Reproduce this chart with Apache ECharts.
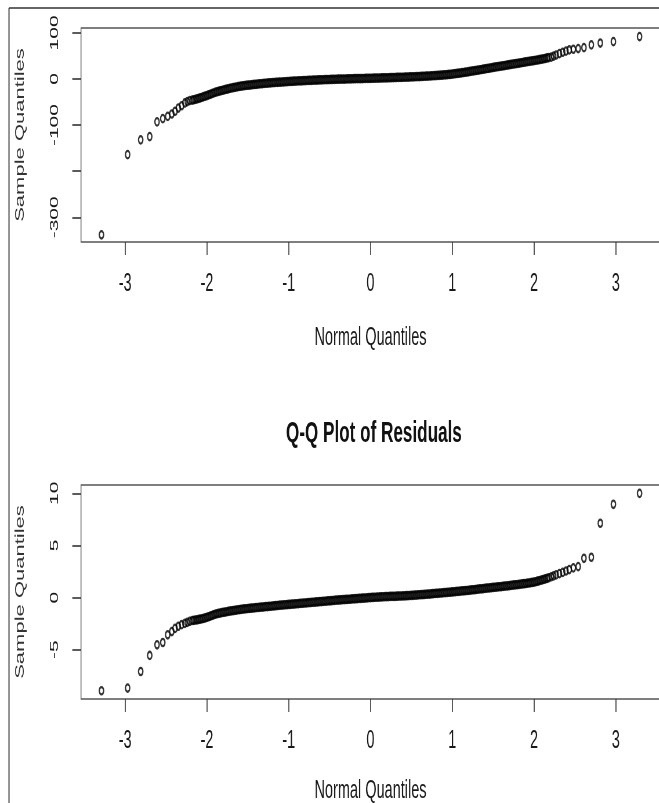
<!DOCTYPE html>
<html>
<head>
<meta charset="utf-8">
<script src="https://cdn.jsdelivr.net/npm/echarts@6/dist/echarts.min.js"></script>
<style>
  html, body { margin: 0; padding: 0; background: #fff; overflow: hidden; width: 659px; height: 803px; }
  #chart { position: absolute; left: 0; top: 0; height: 803px; transform-origin: 0 0; }
</style>
</head>
<body>
<div id="chart"></div>
<script>
// Theoretical normal quantiles (shared by both panels)
const normalQuantiles = [
  -3.29, -2.97, -2.81, -2.70, -2.61, -2.54, -2.48, -2.43, -2.39, -2.35, -2.31, -2.27, -2.24, -2.21,
  -2.18, -2.16, -2.14, -2.12, -2.10, -2.08, -2.06, -2.04, -2.02,
  -2.00, -1.98, -1.96, -1.94, -1.92, -1.90, -1.88, -1.86, -1.84, -1.82,
  -1.80, -1.78, -1.76, -1.74, -1.72, -1.70, -1.68, -1.66, -1.64, -1.62,
  -1.60, -1.58, -1.56, -1.54, -1.52, -1.50, -1.48, -1.46, -1.44, -1.42,
  -1.40, -1.38, -1.36, -1.34, -1.32, -1.30, -1.28, -1.26, -1.24, -1.22,
  -1.20, -1.18, -1.16, -1.14, -1.12, -1.10, -1.08, -1.06, -1.04, -1.02,
  -1.00, -0.98, -0.96, -0.94, -0.92, -0.90, -0.88, -0.86, -0.84, -0.82,
  -0.80, -0.78, -0.76, -0.74, -0.72, -0.70, -0.68, -0.66, -0.64, -0.62,
  -0.60, -0.58, -0.56, -0.54, -0.52, -0.50, -0.48, -0.46, -0.44, -0.42,
  -0.40, -0.38, -0.36, -0.34, -0.32, -0.30, -0.28, -0.26, -0.24, -0.22,
  -0.20, -0.18, -0.16, -0.14, -0.12, -0.10, -0.08, -0.06, -0.04, -0.02,
  0.00, 0.02, 0.04, 0.06, 0.08, 0.10, 0.12, 0.14, 0.16, 0.18,
  0.20, 0.22, 0.24, 0.26, 0.28, 0.30, 0.32, 0.34, 0.36, 0.38,
  0.40, 0.42, 0.44, 0.46, 0.48, 0.50, 0.52, 0.54, 0.56, 0.58,
  0.60, 0.62, 0.64, 0.66, 0.68, 0.70, 0.72, 0.74, 0.76, 0.78,
  0.80, 0.82, 0.84, 0.86, 0.88, 0.90, 0.92, 0.94, 0.96, 0.98,
  1.00, 1.02, 1.04, 1.06, 1.08, 1.10, 1.12, 1.14, 1.16, 1.18,
  1.20, 1.22, 1.24, 1.26, 1.28, 1.30, 1.32, 1.34, 1.36, 1.38,
  1.40, 1.42, 1.44, 1.46, 1.48, 1.50, 1.52, 1.54, 1.56, 1.58,
  1.60, 1.62, 1.64, 1.66, 1.68, 1.70, 1.72, 1.74, 1.76, 1.78,
  1.80, 1.82, 1.84, 1.86, 1.88, 1.90, 1.92, 1.94, 1.96, 1.98,
  2.00, 2.02, 2.04, 2.06, 2.08, 2.10, 2.12, 2.14, 2.16, 2.18,
  2.21, 2.24, 2.27, 2.31, 2.35, 2.39, 2.43, 2.48, 2.54, 2.61, 2.70, 2.81, 2.97, 3.29
];

// Sample quantiles, upper panel
const topSample = [
  -338, -164, -132, -125, -93, -86, -81, -76, -70, -63, -58, -52, -49, -47,
  -46.0, -45.0, -44.0, -43.0, -42.0, -40.8, -39.6, -38.4, -37.2,
  -36.0, -34.6, -33.2, -31.8, -30.4, -29.0, -28.0, -27.0, -26.0, -25.0,
  -24.0, -23.1, -22.2, -21.3, -20.4, -19.5, -18.8, -18.1, -17.4, -16.7,
  -16.0, -15.5, -15.0, -14.5, -14.0, -13.5, -13.1, -12.7, -12.3, -11.9,
  -11.5, -11.1, -10.7, -10.3, -9.9, -9.5, -9.2, -8.9, -8.6, -8.3,
  -8.0, -7.7, -7.5, -7.2, -7.0, -6.7, -6.5, -6.2, -6.0, -5.7,
  -5.5, -5.3, -5.1, -4.8, -4.6, -4.4, -4.2, -4.0, -3.9, -3.7,
  -3.5, -3.3, -3.1, -3.0, -2.8, -2.6, -2.4, -2.3, -2.1, -2.0,
  -1.8, -1.7, -1.5, -1.4, -1.2, -1.1, -1.0, -0.8, -0.7, -0.6,
  -0.5, -0.4, -0.3, -0.2, -0.1, 0.0, 0.1, 0.2, 0.4, 0.5,
  0.6, 0.7, 0.8, 0.8, 0.9, 1.0, 1.1, 1.2, 1.3, 1.4,
  1.5, 1.6, 1.7, 1.8, 1.9, 2.0, 2.1, 2.2, 2.4, 2.5,
  2.6, 2.7, 2.8, 3.0, 3.1, 3.2, 3.3, 3.4, 3.6, 3.7,
  3.8, 3.9, 4.1, 4.2, 4.4, 4.5, 4.7, 4.8, 5.0, 5.1,
  5.3, 5.5, 5.7, 5.9, 6.1, 6.3, 6.5, 6.7, 7.0, 7.2,
  7.4, 7.7, 8.0, 8.2, 8.5, 8.8, 9.1, 9.5, 9.8, 10.2,
  10.5, 11.0, 11.5, 12.0, 12.5, 13.0, 13.6, 14.1, 14.7, 15.2,
  15.8, 16.4, 17.0, 17.6, 18.2, 18.8, 19.4, 20.0, 20.6, 21.2,
  21.8, 22.4, 23.1, 23.7, 24.4, 25.0, 25.6, 26.2, 26.8, 27.4,
  28.0, 28.6, 29.2, 29.8, 30.4, 31.0, 31.6, 32.2, 32.8, 33.4,
  34.0, 34.6, 35.2, 35.8, 36.4, 37.0, 37.6, 38.2, 38.8, 39.4,
  40.0, 40.6, 41.2, 41.8, 42.4, 43.0, 43.9, 44.8, 45.6, 46.5,
  47.5, 49.5, 52, 55, 58, 60.5, 63, 64.5, 66, 68, 74, 78, 81, 92
];

// Sample quantiles of the residuals, lower panel
const residualSample = [
  -8.94, -8.68, -7.09, -5.55, -4.53, -4.31, -3.57, -3.26, -2.95, -2.75, -2.60, -2.48, -2.38, -2.28,
  -2.20, -2.18, -2.15, -2.13, -2.10, -2.07, -2.03, -2.00, -1.95,
  -1.90, -1.84, -1.78, -1.72, -1.66, -1.60, -1.55, -1.52, -1.49, -1.45,
  -1.42, -1.39, -1.36, -1.33, -1.30, -1.27, -1.25, -1.22, -1.20, -1.17,
  -1.15, -1.13, -1.11, -1.09, -1.07, -1.05, -1.03, -1.02, -1.00, -0.99,
  -0.97, -0.95, -0.94, -0.92, -0.91, -0.89, -0.87, -0.86, -0.84, -0.83,
  -0.81, -0.79, -0.78, -0.76, -0.75, -0.73, -0.72, -0.70, -0.69, -0.67,
  -0.66, -0.65, -0.63, -0.62, -0.60, -0.59, -0.58, -0.56, -0.55, -0.53,
  -0.52, -0.51, -0.49, -0.48, -0.46, -0.45, -0.44, -0.42, -0.41, -0.39,
  -0.38, -0.37, -0.35, -0.34, -0.32, -0.31, -0.30, -0.28, -0.27, -0.25,
  -0.24, -0.23, -0.22, -0.20, -0.19, -0.18, -0.17, -0.16, -0.14, -0.13,
  -0.12, -0.11, -0.10, -0.08, -0.07, -0.06, -0.05, -0.04, -0.02, -0.01,
  0.00, 0.01, 0.02, 0.03, 0.04, 0.05, 0.06, 0.07, 0.08, 0.09,
  0.10, 0.10, 0.11, 0.11, 0.12, 0.12, 0.13, 0.14, 0.15, 0.15,
  0.16, 0.17, 0.18, 0.19, 0.20, 0.21, 0.22, 0.23, 0.24, 0.26,
  0.27, 0.28, 0.29, 0.30, 0.32, 0.33, 0.34, 0.36, 0.37, 0.39,
  0.40, 0.41, 0.43, 0.44, 0.46, 0.47, 0.48, 0.50, 0.51, 0.53,
  0.54, 0.56, 0.57, 0.59, 0.60, 0.62, 0.64, 0.65, 0.67, 0.68,
  0.70, 0.72, 0.74, 0.75, 0.77, 0.79, 0.81, 0.83, 0.84, 0.86,
  0.88, 0.90, 0.92, 0.93, 0.95, 0.97, 0.99, 1.01, 1.02, 1.04,
  1.06, 1.08, 1.10, 1.11, 1.13, 1.15, 1.17, 1.19, 1.21, 1.23,
  1.25, 1.27, 1.29, 1.31, 1.33, 1.35, 1.38, 1.40, 1.43, 1.45,
  1.48, 1.52, 1.57, 1.61, 1.66, 1.70, 1.75, 1.80, 1.85, 1.90,
  2.00, 2.08, 2.18, 2.30, 2.42, 2.55, 2.68, 2.85, 2.97, 3.77, 3.87, 7.13, 8.95, 10.0
];

// Tick marks and the labels printed next to them
const xTicks = [-3, -2, -1, 0, 1, 2, 3];
const topYTicks = [-300, -200, -100, 0, 100];
const topYLabels = [-300, -100, 0, 100];
const residualYTicks = [-5, 0, 5, 10];
const residualYLabels = [-5, 0, 5, 10];

// The figure is drawn wide and squeezed horizontally onto the page
const SX = 0.58;
const PAGE_W = 659;
const px = v => v / SX;

const chartEl = document.getElementById('chart');
chartEl.style.width = px(PAGE_W) + 'px';
chartEl.style.transform = 'scaleX(' + SX + ')';

const FONT = "'Liberation Sans', Arial, sans-serif";
const INK = '#1a1a1a';

function xAxisFor(gridIndex, nameGap) {
  return {
    type: 'value', gridIndex,
    min: -3.54, max: 3.54,
    axisLine: { show: false, onZero: false },
    axisTick: { show: true, length: 13, customValues: xTicks, lineStyle: { color: '#333', width: 1.6 } },
    axisLabel: { customValues: xTicks, margin: 30, fontSize: 25, color: INK, fontFamily: FONT },
    splitLine: { show: false },
    name: 'Normal Quantiles', nameLocation: 'middle', nameGap,
    nameTextStyle: { fontSize: 25, color: INK, fontFamily: FONT }
  };
}

function yAxisFor(gridIndex, min, max, ticks, labels) {
  return {
    type: 'value', gridIndex, min, max,
    axisLine: { show: false, onZero: false },
    axisTick: { show: true, length: 15, customValues: ticks, lineStyle: { color: '#333', width: 1.6 } },
    axisLabel: { customValues: labels, rotate: 90, margin: 35, fontSize: 21, color: INK, fontFamily: FONT },
    splitLine: { show: false },
    name: 'Sample Quantiles', nameLocation: 'middle', nameRotate: 90, nameGap: 94,
    nameTextStyle: { fontSize: 22, color: '#333', fontFamily: FONT }
  };
}

const pointStyle = {
  type: 'scatter',
  symbol: 'circle',
  symbolSize: 7.4,
  itemStyle: { color: 'rgba(0,0,0,0)', borderColor: '#000', borderWidth: 2.3 },
  emphasis: { disabled: true },
  silent: true
};

const chart = echarts.init(chartEl);
chart.setOption({
  animation: false,
  backgroundColor: '#fff',
  title: [{
    text: 'Q-Q Plot of Residuals',
    left: px(371), top: 414, textAlign: 'center',
    textStyle: { fontSize: 29.5, fontWeight: 'bold', color: '#111', fontFamily: FONT }
  }],
  grid: [
    { left: px(81), top: 28, width: px(660) - px(81), height: 214, show: true, borderColor: '#555', borderWidth: 1.5, containLabel: false, outerBoundsMode: 'none' },
    { left: px(81), top: 485, width: px(660) - px(81), height: 214, show: true, borderColor: '#555', borderWidth: 1.5, containLabel: false, outerBoundsMode: 'none' }
  ],
  xAxis: [xAxisFor(0, 84), xAxisFor(1, 80)],
  yAxis: [
    yAxisFor(0, -353.6, 110.6, topYTicks, topYLabels),
    yAxisFor(1, -9.73, 10.8, residualYTicks, residualYLabels)
  ],
  graphic: [
    { type: 'line', shape: { x1: px(9), y1: 8, x2: px(PAGE_W) + 10, y2: 8 }, style: { stroke: '#666', lineWidth: 2 }, silent: true },
    { type: 'line', shape: { x1: px(9), y1: 8, x2: px(9), y2: 810 }, style: { stroke: '#222', lineWidth: 1.8 }, silent: true }
  ],
  series: [
    Object.assign({}, pointStyle, {
      xAxisIndex: 0, yAxisIndex: 0,
      data: normalQuantiles.map((q, i) => [q, topSample[i]])
    }),
    Object.assign({}, pointStyle, {
      xAxisIndex: 1, yAxisIndex: 1,
      data: normalQuantiles.map((q, i) => [q, residualSample[i]])
    })
  ]
});
</script>
</body>
</html>
